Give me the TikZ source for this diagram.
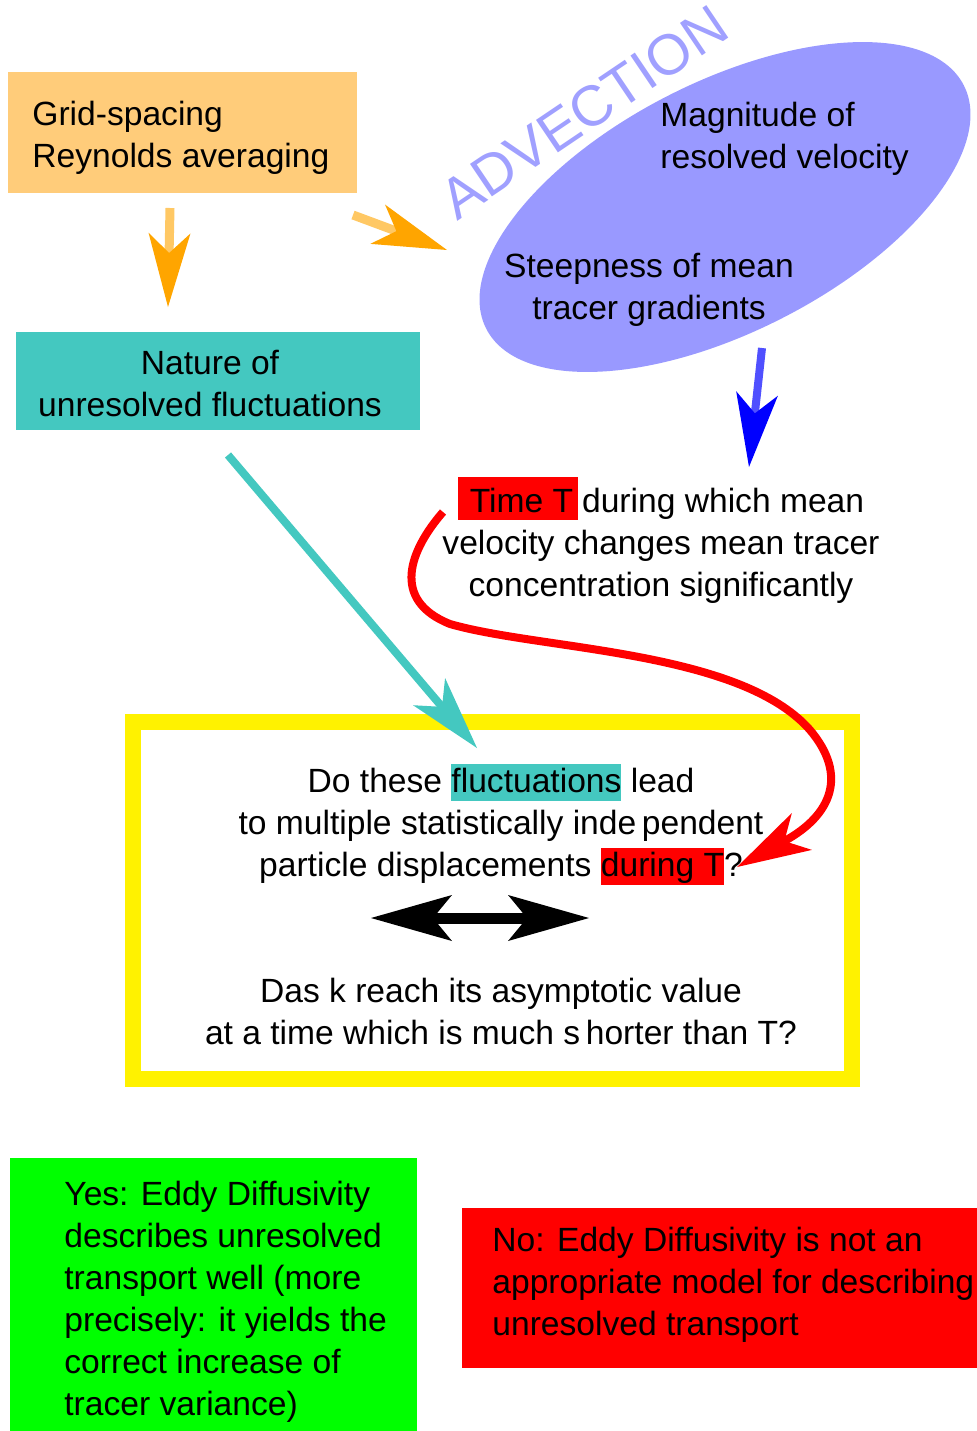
\documentclass[tikz,border=0pt]{standalone}
\usepackage{fontspec}
\setmainfont{Liberation Sans}
\usetikzlibrary{arrows.meta,shapes.geometric,positioning}

\definecolor{gridfill}{HTML}{FFCC7A}
\definecolor{gridhead}{HTML}{FFA500}
\definecolor{gridshaft}{HTML}{FFC864}
\definecolor{fluct}{HTML}{44C8C0}
\definecolor{advfill}{HTML}{9999FF}
\definecolor{advtext}{HTML}{A0A0FF}
\definecolor{advshaft}{HTML}{5050FF}
\definecolor{yesfill}{HTML}{00FF00}

% coloured background behind a word
\newcommand{\hlword}[3][18.5pt]{{\setlength{\fboxsep}{0pt}\colorbox{#2}{\rule[-4pt]{0pt}{#1}#3}}}

\begin{document}
\begin{tikzpicture}[x=0.5pt, y=-0.5pt,
    txt/.style={font=\fontsize{16.8}{21}\selectfont, inner sep=0pt},
    panel/.style={fill=#1, anchor=north west, inner sep=0pt},
    headto/.style={-{Stealth[length=37pt, width=21pt, inset=10pt, line width=0pt, color=#1]}},
    flow/.style={line width=4pt}]
  \useasboundingbox (0,0) rectangle (977,1431);

  % causes
  \node [panel=gridfill, minimum width=174.5pt, minimum height=60.5pt] (grid) at (8,72) {};
  \node [txt, align=left, anchor=west] (gridtext) at (32,137.5)
    {Grid-spacing\\Reynolds averaging};
  \node [panel=fluct, minimum width=202pt, minimum height=49pt] (nature) at (16,332) {};
  \node [txt, align=center] (naturetext) at (210,383)
    {Nature of\\unresolved fluctuations};
  \node [ellipse, fill=advfill, rotate=27, minimum width=268pt,
    minimum height=125pt, inner sep=0pt] (adv) at (725,207) {};
  \node [txt, text=advtext, font=\fontsize{28.5}{28.5}\selectfont,
    rotate=34] (advlabel) at (584,112) {ADVECTION};
  \node [txt, align=left, anchor=west] (mag) at (660,139)
    {Magnitude of\\resolved velocity};
  \node [txt, align=center] (steep) at (649,290)
    {Steepness of mean\\tracer gradients};
  \node [txt, align=center] (time) at (661,540)
    {\hlword[21.5pt]{red}{\hspace{6pt}Time T\hspace{2.5pt}}\hspace{2pt}during which mean\\
     velocity changes mean tracer\\concentration significantly};

  % the question
  \node [draw=yellow, line width=8pt, minimum width=359.5pt,
    minimum height=178.5pt] (frame) at (492.5,900.5) {};
  \node [txt, align=center] (q1) at (501,824)
    {Do these \hlword{fluct}{fluctuations} lead\\
     to multiple statistically inde\,pendent\\
     particle displacements \hlword{red}{during T}?};
  \node [txt, align=center] (q2) at (501,1011)
    {Das k reach its asymptotic value\\
     at a time which is much s\,horter than T?};

  % answers
  \node [panel=yesfill, minimum width=203.5pt, minimum height=140pt] (yes) at (10,1158) {};
  \node [txt, align=left, anchor=west] (yestext) at (64,1302)
    {Yes: Eddy Diffusivity\\describes unresolved\\transport well (more\\
     precisely: it yields the\\correct increase of\\tracer variance)};
  \node [panel=red, minimum width=280pt, minimum height=80pt] (no) at (462,1208) {};
  \node [txt, align=left, anchor=west] (notext) at (492,1285)
    {No: Eddy Diffusivity is not an\\appropriate model for describing\\
     unresolved transport};

  % arrow ends
  \coordinate (g1) at (170,208);
  \coordinate (g1e) at (168,307);
  \coordinate (g2) at (353,215);
  \coordinate (g2e) at (447,250);
  \coordinate (a1) at (762,348);
  \coordinate (a1e) at (749,467);
  \coordinate (n1) at (228,455);
  \coordinate (n1e) at (477,748);
  \coordinate (t1) at (443,512);
  \coordinate (t1e) at (737,867);
  \coordinate (dl) at (371,918);
  \coordinate (dr) at (589,918);

  \draw [flow, gridshaft, line width=4.5pt, headto=gridhead] (g1) -- (g1e);
  \draw [flow, gridshaft, line width=4.5pt, headto=gridhead] (g2) -- (g2e);
  \draw [flow, advshaft, headto=blue] (a1) -- (a1e);
  \draw [flow, fluct, headto=fluct] (n1) -- (n1e);
  \draw [flow, red, headto=red] (t1) .. controls (410,550) and (390,600)
    .. (450,624) .. controls (540,650) and (740,650) .. (810,730)
    .. controls (848,775) and (832,815) .. (t1e);
  \draw [line width=5.5pt,
    {Stealth[length=40.5pt, width=23pt, inset=9.5pt, line width=0pt]}-%
    {Stealth[length=40.5pt, width=23pt, inset=9.5pt, line width=0pt]}]
    (dl) -- (dr);
\end{tikzpicture}
\end{document}
